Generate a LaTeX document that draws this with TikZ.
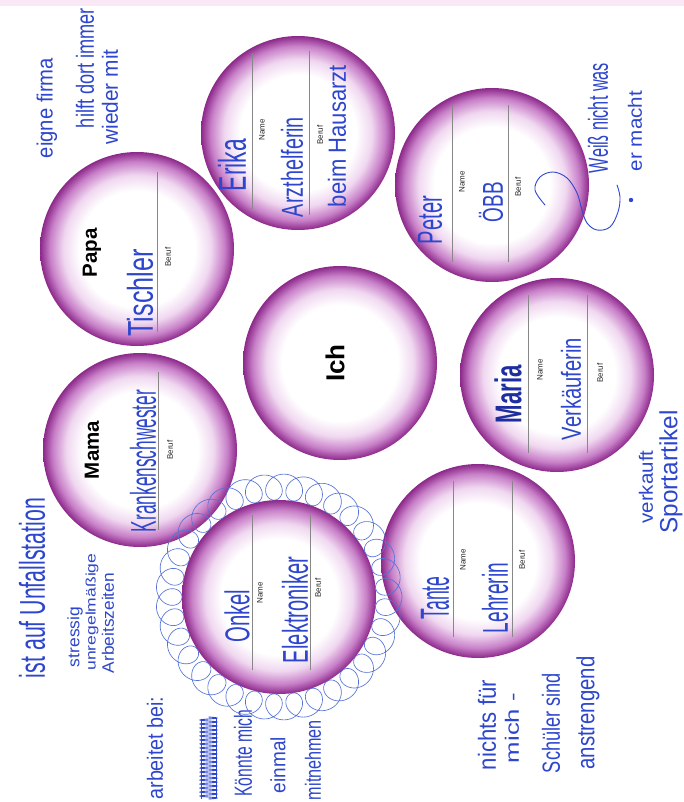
\documentclass[tikz,border=0pt]{standalone}
\usepackage{graphicx}
\usepackage{fontspec}
\setmainfont{Liberation Sans}
\newfontfamily\handfont{Liberation Sans}
\usetikzlibrary{calc}
\definecolor{pedge}{RGB}{140,40,138}
\definecolor{pmid}{RGB}{200,128,200}
\definecolor{plight}{RGB}{240,216,240}
\definecolor{ink}{RGB}{45,70,205}
\definecolor{inkdark}{RGB}{30,45,160}
\definecolor{loopink}{RGB}{85,115,215}
\definecolor{rulegray}{RGB}{135,135,135}
\definecolor{toppink}{RGB}{250,232,246}
\pgfdeclareradialshading{worksheetball}{\pgfpointorigin}{color(0bp)=(white); color(15bp)=(white); color(19bp)=(plight); color(22.5bp)=(pmid); color(25bp)=(pedge); color(50bp)=(pedge)}
\newcommand\hw[3]{\resizebox{#1pt}{#2pt}{\handfont #3}}
\tikzset{
  ball/.style={circle, minimum size=194pt, inner sep=0pt, shade, shading=worksheetball},
  rulestyle/.style={draw=rulegray, line width=0.6pt},
  lbl/.style={rotate=90, inner sep=0pt, text=black!85, font=\fontsize{8}{9}\selectfont},
  printed/.style={rotate=90, inner sep=0pt, text=black, font=\bfseries\fontsize{20.5}{23}\selectfont},
  hand/.style={rotate=90, inner sep=0pt, text=ink},
  handdark/.style={rotate=90, inner sep=0pt, text=inkdark, font=\bfseries},
}
\begin{document}
\begin{tikzpicture}[x=1pt,y=-1pt]
\fill[white] (0,0) rectangle (684,802);
\useasboundingbox (0,0) rectangle (684,802);
\fill[toppink] (0,0) rectangle (684,6);

% circles
\node[ball] (erika) at (298,133) {};
\node[ball] (peter) at (492,185) {};
\node[ball] (papa)  at (137,249) {};
\node[ball] (mama)  at (140,450) {};
\node[ball] (ich)   at (340,363) {};
\node[ball] (maria) at (557,375) {};
\node[ball] (tante) at (478,561) {};
\node[ball] (onkel) at (279,597) {};

% rules
\draw[rulestyle] ($(erika)+(-46,-80)$) -- ($(erika)+(-46,76)$);
\draw[rulestyle] ($(erika)+(11,-82)$) -- ($(erika)+(11,82)$);
\draw[rulestyle] ($(peter)+(-40,-80)$) -- ($(peter)+(-40,77)$);
\draw[rulestyle] ($(peter)+(16,-80)$) -- ($(peter)+(16,77)$);
\draw[rulestyle] ($(maria)+(-29,-80)$) -- ($(maria)+(-29,78)$);
\draw[rulestyle] ($(maria)+(30,-80)$) -- ($(maria)+(30,78)$);
\draw[rulestyle] ($(tante)+(-25,-80)$) -- ($(tante)+(-25,76)$);
\draw[rulestyle] ($(tante)+(34,-80)$) -- ($(tante)+(34,76)$);
\draw[rulestyle] ($(onkel)+(-27,-82)$) -- ($(onkel)+(-27,73)$);
\draw[rulestyle] ($(onkel)+(31,-82)$) -- ($(onkel)+(31,73)$);
\draw[rulestyle] ($(papa)+(20,-77)$) -- ($(papa)+(20,83)$);
\draw[rulestyle] ($(mama)+(18,-78)$) -- ($(mama)+(18,80)$);

% printed labels
\node[lbl] (erikaN) at ($(erika)+(-36,-3)$) {Name};
\node[lbl] (erikaB) at ($(erika)+(22,2)$) {Beruf};
\node[lbl] (peterN) at ($(peter)+(-30,-3)$) {Name};
\node[lbl] (peterB) at ($(peter)+(26,2)$) {Beruf};
\node[lbl] (mariaN) at ($(maria)+(-17,-5)$) {Name};
\node[lbl] (mariaB) at ($(maria)+(43,-2)$) {Beruf};
\node[lbl] (tanteN) at ($(tante)+(-15,-1)$) {Name};
\node[lbl] (tanteB) at ($(tante)+(44,-1)$) {Beruf};
\node[lbl] (onkelN) at ($(onkel)+(-19,-4)$) {Name};
\node[lbl] (onkelB) at ($(onkel)+(39,-9)$) {Beruf};
\node[lbl] (papaB) at ($(papa)+(31,8)$) {Beruf};
\node[lbl] (mamaB) at ($(mama)+(30,0)$) {Beruf};
\node[printed] (papaT) at ($(papa)+(-45,4)$) {Papa};
\node[printed] (mamaT) at ($(mama)+(-48,0)$) {Mama};
\node[printed, font=\bfseries\fontsize{26}{30}\selectfont] (ichT) at ($(ich)+(-5,0)$) {Ich};

% handwriting inside circles
\node[hand] (erikaName) at (232,165) {\hw{52}{28}{Erika}};
\node[hand] (erikaJob1) at (292,167) {\hw{100}{22}{Arzthelferin}};
\node[hand] (erikaJob2) at (337,136) {\hw{142}{18}{beim Hausarzt}};
\node[hand] (peterName) at (430,220) {\hw{48}{24}{Peter}};
\node[hand] (peterJob) at (491,202) {\hw{40}{24}{ÖBB}};
\node[hand] (papaJob) at (140,293) {\hw{87}{26}{Tischler}};
\node[hand] (mamaJob) at (143,461) {\hw{142}{26}{Krankenschwester}};
\node[handdark] (mariaName) at (508,394) {\hw{58}{27}{\bfseries Maria}};
\node[hand] (mariaJob) at (571,389) {\hw{102}{20}{Verkäuferin}};
\node[hand] (tanteName) at (435,598) {\hw{43}{28}{Tante}};
\node[hand] (tanteJob) at (495,598) {\hw{70}{26}{Lehrerin}};
\node[hand] (onkelName) at (237,616) {\hw{53}{25}{Onkel}};
\node[hand] (onkelJob) at (295,610) {\hw{106}{26}{Elektroniker}};

% notes
\node[hand] (papaNoteA) at (47,108) {\hw{100}{16}{eigne firma}};
\node[hand] (papaNoteB) at (85,68) {\hw{120}{18}{hilft dort immer}};
\node[hand] (papaNoteC) at (110,97) {\hw{95}{16}{wieder mit}};
\node[hand] (peterNoteA) at (598,118) {\hw{110}{20}{Weiß nicht was}};
\node[hand] (peterNoteB) at (635,131) {\hw{80}{14}{er macht}};
\node[hand] (mariaNoteA) at (646,487) {\hw{73}{14}{verkauft}};
\node[hand] (mariaNoteB) at (671,472) {\hw{123}{18}{Sportartikel}};
\node[hand] (tanteNoteA) at (487,725) {\hw{90}{18}{nichts für}};
\node[hand] (tanteNoteB) at (512,728) {\hw{70}{14}{mich -}};
\node[hand] (tanteNoteC) at (551,723) {\hw{100}{18}{Schüler sind}};
\node[hand] (tanteNoteD) at (588,713) {\hw{113}{18}{anstrengend}};
\node[hand] (mamaNoteA) at (32,588) {\hw{180}{26}{ist auf Unfallstation}};
\node[hand] (mamaNoteB) at (75,637) {\hw{60}{12}{stressig}};
\node[hand] (mamaNoteC) at (92,612) {\hw{117}{10}{unregelmäßige}};
\node[hand] (mamaNoteD) at (108,623) {\hw{100}{12}{Arbeitszeiten}};
\node[hand] (onkelNoteA) at (155,748) {\hw{103}{16}{arbeitet bei:}};
\node[hand] (onkelNoteC) at (243,753) {\hw{87}{18}{Könnte mich}};
\node[hand] (onkelNoteD) at (278,765) {\hw{56}{15}{einmal}};
\node[hand] (onkelNoteE) at (313,760) {\hw{80}{16}{mitnehmen}};

% crossed-out word
\draw[ink, line width=0.9pt] plot[domain=0:82, samples=330] ({208.5+8.5*sin(\x*90)}, {717+\x});
\draw[ink, line width=0.7pt] (201,720) -- (201,799) (216,718) -- (216,798);

% question mark near Peter
\draw[ink, line width=0.9pt, line cap=round] plot[smooth, tension=0.6] coordinates {(545,205) (535,190) (540,177) (553,172) (567,178) (577,193) (582,210) (587,223) (597,230) (610,227) (618,212) (620,197) (617,185)};
\fill[ink] (631,200) circle[radius=2.2pt];

% loops around Onkel
\draw[loopink, line width=0.65pt, shift={(onkel.center)}] plot[domain=0:360, samples=1500] ({110*cos(\x)+13*cos(34*\x)}, {110*sin(\x)+13*sin(34*\x)});
\end{tikzpicture}
\end{document}
